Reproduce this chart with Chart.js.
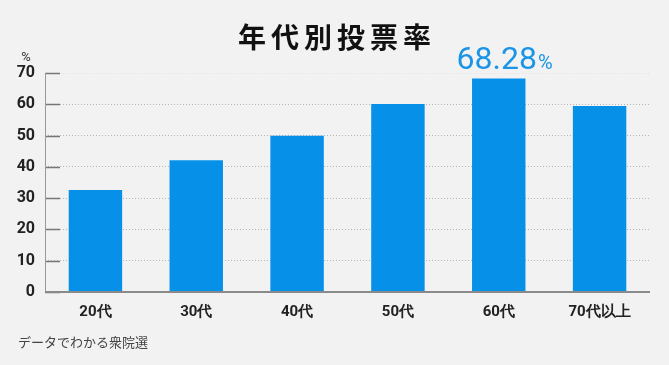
<!DOCTYPE html>
<html>
<head>
<meta charset="utf-8">
<script src="https://cdn.jsdelivr.net/npm/chart.js@4"></script>
<style>
html,body{margin:0;padding:0;background:#f2f2f2;}
#wrap{width:669px;height:365px;position:relative;}
</style>
</head>
<body>
<div id="wrap"><canvas id="c" width="669" height="365"></canvas></div>
<script>
const categories = ["20代", "30代", "40代", "50代", "60代", "70代以上"];
const turnout = [32.58, 42.09, 49.98, 60.07, 68.28, 59.46];
const yTicks = [0, 10, 20, 30, 40, 50, 60, 70];
const titleText = "年代別投票率";
const sourceText = "データでわかる衆院選";
const unitText = "%";
const highlightIndex = 4;

const NUM = "Roboto, 'Noto Sans', sans-serif";
const JP = "'Noto Sans CJK JP', sans-serif";

const decor = {
  id: 'decor',
  beforeDraw(chart) {
    const ctx = chart.ctx;
    ctx.save();
    ctx.fillStyle = '#f2f2f2';
    ctx.fillRect(0, 0, chart.width, chart.height);
    ctx.restore();
  },
  afterDatasetsDraw(chart) {
    const ctx = chart.ctx;
    const y = chart.scales.y;
    const area = chart.chartArea;
    ctx.save();
    ctx.strokeStyle = '#777';
    ctx.lineWidth = 1.5;
    yTicks.forEach(v => {
      const py = Math.round(y.getPixelForValue(v)) + 0.5;
      ctx.beginPath();
      ctx.moveTo(area.left, py);
      ctx.lineTo(area.left + 15, py);
      ctx.stroke();
    });
    ctx.strokeStyle = '#999';
    ctx.lineWidth = 1;
    ctx.beginPath();
    ctx.moveTo(area.left + 0.5, y.getPixelForValue(70));
    ctx.lineTo(area.left + 0.5, area.bottom);
    ctx.stroke();
    ctx.strokeStyle = '#8a8a8a';
    ctx.lineWidth = 2;
    ctx.beginPath();
    ctx.moveTo(area.left, area.bottom);
    ctx.lineTo(area.right, area.bottom);
    ctx.stroke();

    ctx.fillStyle = '#111';
    ctx.font = "bold 28px " + JP;
    ctx.textBaseline = 'middle';
    ctx.textAlign = 'center';
    const step = 33;
    const chars = Array.from(titleText);
    const startX = chart.width / 2 - (chars.length - 1) * step / 2;
    chars.forEach((ch, i) => ctx.fillText(ch, startX + i * step, 37));

    const meta = chart.getDatasetMeta(0);
    const bar = meta.data[highlightIndex];
    const numStr = turnout[highlightIndex].toFixed(2);
    ctx.fillStyle = '#1a94e6';
    ctx.textBaseline = 'alphabetic';
    ctx.textAlign = 'center';
    ctx.font = "32px " + NUM;
    const w = ctx.measureText(numStr).width;
    ctx.fillText(numStr, bar.x - 2, 69);
    ctx.textAlign = 'left';
    ctx.font = "20px " + NUM;
    ctx.fillText("%", bar.x - 2 + w / 2 + 1, 69);

    ctx.fillStyle = '#333';
    ctx.font = "13px " + NUM;
    ctx.textAlign = 'center';
    ctx.textBaseline = 'middle';
    ctx.fillText(unitText, 26, 58);

    ctx.fillStyle = '#444';
    ctx.font = "13px " + JP;
    ctx.textAlign = 'left';
    ctx.fillText(sourceText, 18, 342);
    ctx.restore();
  }
};

new Chart(document.getElementById('c'), {
  type: 'bar',
  data: {
    labels: categories,
    datasets: [{
      data: turnout,
      backgroundColor: '#0790e8',
      borderWidth: 0,
      barPercentage: 0.53,
      categoryPercentage: 1.0
    }]
  },
  options: {
    responsive: false,
    animation: false,
    devicePixelRatio: 1,
    layout: { padding: { top: 73, left: 0, right: 19, bottom: 43 } },
    plugins: { legend: { display: false }, tooltip: { enabled: false }, title: { display: false } },
    scales: {
      x: {
        afterFit(s) { s.height = 30; },
        grid: { display: false, drawTicks: false },
        border: { display: false },
        ticks: { color: '#222', padding: 11, font: { family: NUM, size: 15, weight: 'bold' } }
      },
      y: {
        min: 0, max: 70,
        afterFit(s) { s.width = 45; },
        afterBuildTicks(s) { s.ticks = yTicks.map(v => ({ value: v })); },
        grid: {
          drawTicks: false,
          color: ctx => ctx.tick && ctx.tick.value === 70 ? '#e2e2e2' : '#b5b5b5',
          lineWidth: 1
        },
        border: { display: false, dash: [1, 2] },
        ticks: { color: '#222', padding: 10, font: { family: NUM, size: 16, weight: 'bold' } }
      }
    }
  },
  plugins: [decor]
});
</script>
</body>
</html>
